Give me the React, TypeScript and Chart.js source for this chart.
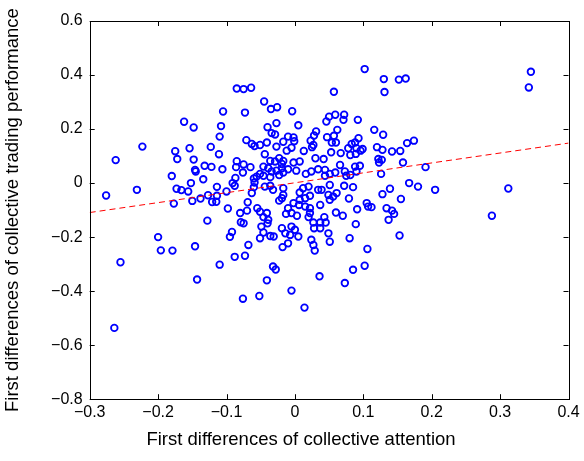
import { useEffect, useRef } from "react";
import { Chart, registerables } from "chart.js";

Chart.register(...registerables);

// First differences of collective attention (x)
const attentionDiff = [
  -0.085, -0.075, -0.064, -0.105, -0.073, -0.162, -0.148, -0.108, -0.110, -0.071,
  -0.063, -0.059, -0.223, -0.175, -0.154, -0.123, -0.111, -0.262, -0.172, -0.148,
  -0.085, -0.075, -0.086, -0.065, -0.146, -0.132, -0.122, -0.106, -0.076, -0.087,
  -0.091, -0.088, -0.060, -0.059, -0.060, -0.063, -0.069, -0.070, -0.080, -0.079,
  -0.075, -0.092, -0.095, -0.098, -0.100, -0.114, -0.127, -0.114, -0.121, -0.115,
  -0.134, -0.145, -0.152, -0.156, -0.166, -0.173, -0.180, -0.138, -0.150, -0.177,
  -0.231, -0.276, -0.128, -0.200, -0.196, -0.179, -0.146, -0.255, -0.110, -0.088,
  -0.073, -0.068, -0.143, -0.076, -0.052, -0.264, -0.032, -0.028, -0.041, -0.005,
  0.014, 0.036, 0.073, 0.085, 0.102, -0.045, -0.035, -0.026, -0.004, 0.050,
  0.059, 0.046, -0.027, 0.005, -0.040, -0.034, -0.029, 0.031, 0.028, 0.062,
  -0.051, -0.041, -0.017, -0.010, -0.002, -0.001, 0.023, 0.027, 0.025, 0.047,
  0.057, 0.054, 0.060, -0.027, -0.005, -0.012, 0.013, 0.053, -0.044, -0.036,
  -0.029, -0.023, -0.019, -0.017, -0.002, 0.007, 0.030, 0.042, -0.046, -0.039,
  -0.034, -0.027, -0.019, -0.017, -0.023, -0.051, -0.056, -0.046, -0.036, -0.010,
  0.002, 0.016, 0.024, 0.034, 0.044, 0.051, 0.059, 0.044, -0.036, -0.032,
  -0.044, -0.017, -0.017, -0.019, -0.023, 0.012, 0.020, 0.007, 0.022, 0.015,
  0.034, 0.039, 0.051, 0.049, 0.056, 0.061, 0.051, -0.002, 0.006, 0.007,
  0.015, 0.022, 0.037, -0.055, -0.051, -0.041, -0.010, -0.013, -0.005, 0.003,
  0.020, 0.022, 0.060, -0.046, -0.039, -0.040, 0.027, 0.037, 0.045, 0.043,
  0.028, 0.037, -0.049, -0.046, -0.051, -0.019, -0.005, 0.000, -0.014, -0.007,
  0.005, -0.036, -0.031, 0.049, 0.051, -0.010, -0.018, 0.024, 0.027, 0.029,
  0.072, 0.071, 0.092, 0.116, 0.129, 0.093, 0.088, 0.083, 0.078, 0.090,
  0.096, 0.099, 0.089, 0.081, 0.067, 0.120, 0.128, 0.142, 0.154, 0.164,
  0.174, 0.122, 0.127, 0.123, 0.158, 0.066, 0.088, 0.095, 0.090, 0.073,
  0.081, 0.075, 0.126, 0.167, 0.180, 0.072, 0.085, 0.139, 0.128, 0.079,
  0.155, 0.105, 0.107, 0.112, 0.091, 0.134, 0.142, 0.145, 0.137, 0.070,
  0.089, 0.080, 0.153, 0.106, 0.102, 0.130, 0.152, 0.162, 0.131, 0.057,
  0.345, 0.342, 0.191, 0.205, 0.312, 0.288
];

// First differences of collective trading performance (y)
const performanceDiff = [
  0.350, 0.348, 0.353, 0.265, 0.261, 0.227, 0.206, 0.211, 0.172, 0.159,
  0.145, 0.137, 0.135, 0.118, 0.129, 0.134, 0.107, 0.085, 0.089, 0.087,
  0.081, 0.069, 0.059, 0.059, 0.049, 0.064, 0.060, 0.051, 0.039, 0.019,
  0.000, -0.010, 0.017, 0.002, -0.015, -0.037, -0.071, -0.102, -0.111, -0.145,
  -0.149, -0.181, -0.199, -0.094, -0.031, -0.014, -0.045, -0.047, -0.070, -0.069,
  0.014, 0.043, 0.000, -0.031, -0.026, -0.021, 0.026, -0.057, -0.066, -0.076,
  -0.025, -0.046, -0.139, -0.200, -0.249, -0.250, -0.234, -0.293, -0.302, -0.273,
  -0.269, -0.229, -0.357, -0.428, -0.418, -0.536, -0.309, -0.320, -0.360, -0.398,
  -0.461, -0.345, -0.370, -0.321, -0.306, 0.302, 0.274, 0.281, 0.266, 0.246,
  0.253, 0.228, 0.222, 0.214, 0.207, 0.185, 0.180, 0.191, 0.176, 0.197,
  0.141, 0.150, 0.153, 0.172, 0.169, 0.155, 0.157, 0.141, 0.133, 0.170,
  0.175, 0.150, 0.150, 0.135, 0.131, 0.120, 0.119, 0.114, 0.107, 0.082,
  0.080, 0.092, 0.071, 0.082, 0.076, 0.080, 0.092, 0.089, 0.061, 0.055,
  0.043, 0.046, 0.055, 0.039, 0.030, 0.034, 0.024, 0.027, 0.022, 0.051,
  0.046, 0.034, 0.043, 0.051, 0.049, 0.034, 0.039, 0.027, -0.010, -0.025,
  -0.013, -0.019, -0.044, -0.056, -0.065, -0.019, -0.013, -0.035, -0.047, -0.056,
  -0.025, -0.025, -0.007, -0.044, -0.050, -0.037, -0.062, -0.074, -0.081, -0.062,
  -0.087, -0.093, -0.081, -0.093, -0.106, -0.111, -0.093, -0.114, -0.111, -0.121,
  -0.126, -0.111, -0.109, -0.126, -0.136, -0.149, -0.146, -0.146, -0.146, -0.126,
  -0.167, -0.167, -0.161, -0.183, -0.204, -0.167, -0.161, -0.173, -0.186, -0.192,
  -0.198, -0.196, -0.198, -0.186, -0.217, -0.223, -0.237, -0.210, -0.229, -0.250,
  0.253, 0.234, 0.234, 0.197, 0.179, 0.166, 0.150, 0.145, 0.129, 0.129,
  0.120, 0.126, 0.108, 0.104, 0.111, 0.133, 0.123, 0.117, 0.119, 0.148,
  0.157, 0.089, 0.086, 0.076, 0.076, 0.067, 0.061, 0.064, 0.043, 0.043,
  0.030, 0.027, 0.034, 0.000, -0.013, -0.010, -0.015, -0.021, -0.041, -0.057,
  -0.059, -0.074, -0.087, -0.089, -0.097, -0.093, -0.102, -0.114, -0.136, -0.121,
  -0.152, -0.204, -0.194, -0.244, 0.422, 0.385, 0.383, 0.387, 0.337, 0.338,
  0.412, 0.354, 0.059, -0.025, -0.020, -0.121
];

// Least-squares fit line end points
const fitX = [-0.3, 0.4];
const fitY = [-0.109, 0.148];

const xTickValues = [-0.3, -0.2, -0.1, 0, 0.1, 0.2, 0.3, 0.4];
const yTickValues = [-0.8, -0.6, -0.4, -0.2, 0, 0.2, 0.4, 0.6];

const xTitle = "First differences of collective attention";
const yTitle = "First differences of collective trading performance";

const FONT = "'Liberation Sans', Arial, sans-serif";

const fmt = (v: number) => {
  const r = Math.round(v * 10) / 10;
  if (r === 0) return "0";
  return (r < 0 ? "\u2212" : "") + Math.abs(r).toFixed(1);
};

const boxPlugin = {
  id: "matlabBox",
  afterDraw(chart: any) {
    const { ctx, chartArea, scales } = chart;
    const { left, right, top, bottom } = chartArea;
    const len = 5;
    ctx.save();
    ctx.strokeStyle = "#000";
    ctx.lineWidth = 1;
    ctx.beginPath();
    xTickValues.forEach((v) => {
      const px = Math.round(scales.x.getPixelForValue(v)) + 0.5;
      ctx.moveTo(px, bottom);
      ctx.lineTo(px, bottom - len);
      ctx.moveTo(px, top);
      ctx.lineTo(px, top + len);
    });
    yTickValues.forEach((v) => {
      const py = Math.round(scales.y.getPixelForValue(v)) + 0.5;
      ctx.moveTo(left, py);
      ctx.lineTo(left + len, py);
      ctx.moveTo(right, py);
      ctx.lineTo(right - len, py);
    });
    ctx.stroke();
    ctx.strokeRect(Math.round(left) + 0.5, Math.round(top) + 0.5, Math.round(right - left), Math.round(bottom - top));
    // x-axis label (positioned as in the original figure, slightly left of the axes centre)
    ctx.fillStyle = "#000";
    ctx.font = `18.5px ${FONT}`;
    ctx.textAlign = "center";
    ctx.textBaseline = "middle";
    ctx.fillText(xTitle, 301, 440);
    ctx.restore();
  },
};

export default function App() {
  const ref = useRef<HTMLCanvasElement | null>(null);

  useEffect(() => {
    if (!ref.current) return;
    const points = attentionDiff.map((x, i) => ({ x, y: performanceDiff[i] }));
    const fit = fitX.map((x, i) => ({ x, y: fitY[i] }));
    const chart = new Chart(ref.current, {
      type: "scatter",
      data: {
        datasets: [
          {
            label: "data",
            data: points,
            pointStyle: "circle",
            pointRadius: 3.3,
            pointBorderWidth: 1.8,
            borderColor: "#0000ff",
            backgroundColor: "rgba(0,0,0,0)",
            order: 2,
          },
          {
            type: "line",
            label: "fit",
            data: fit,
            borderColor: "#ff0000",
            borderWidth: 1,
            borderDash: [6, 4],
            pointRadius: 0,
            fill: false,
            order: 1,
          } as any,
        ],
      },
      options: {
        animation: false,
        responsive: true,
        maintainAspectRatio: false,
        layout: { padding: { left: 0, top: 21, right: 15.5, bottom: 0 } },
        plugins: { legend: { display: false }, tooltip: { enabled: false } },
        scales: {
          x: {
            type: "linear",
            min: -0.3,
            max: 0.4,
            afterBuildTicks: (s: any) => {
              s.ticks = xTickValues.map((value) => ({ value }));
            },
            afterFit: (s: any) => {
              s.height = 61.8;
            },
            grid: { display: false, drawTicks: false },
            border: { display: false },
            ticks: {
              callback: (v: any) => fmt(Number(v)),
              color: "#000",
              padding: 4,
              maxRotation: 0,
              font: { family: FONT, size: 16 },
            },
            title: { display: false },
          },
          y: {
            type: "linear",
            min: -0.8,
            max: 0.6,
            afterBuildTicks: (s: any) => {
              s.ticks = yTickValues.map((value) => ({ value }));
            },
            afterFit: (s: any) => {
              s.width = 89.7;
            },
            grid: { display: false, drawTicks: false },
            border: { display: false },
            ticks: {
              callback: (v: any) => fmt(Number(v)),
              color: "#000",
              padding: 7,
              font: { family: FONT, size: 16 },
            },
            title: {
              display: true,
              text: yTitle,
              color: "#000",
              padding: { top: 2, bottom: 0 },
              font: { family: FONT, size: 18.5 },
            },
          },
        },
      },
      plugins: [boxPlugin],
    });
    return () => chart.destroy();
  }, []);

  return (
    <div style={{ position: "absolute", left: 0, top: 0, width: 584, height: 461, background: "#fff" }}>
      <canvas ref={ref} />
    </div>
  );
}
